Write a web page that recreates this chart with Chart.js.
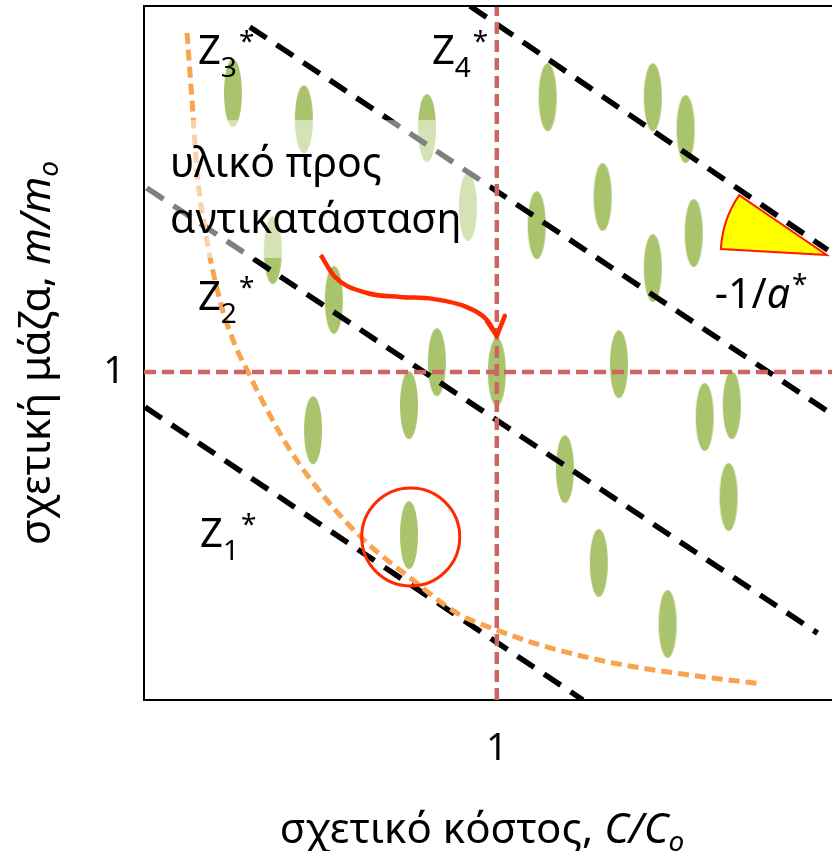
<!DOCTYPE html>
<html><head><meta charset="utf-8">
<script src="https://cdn.jsdelivr.net/npm/chart.js@4/dist/chart.umd.min.js"></script>
<style>html,body{margin:0;padding:0;background:#fff;}#wrap{width:832px;height:851px;}</style>
</head><body><div id="wrap"><canvas id="c" width="832" height="851"></canvas></div>
<script>
// ---------- data (relative cost C/Co on x, relative mass m/mo on y) ----------
const xRange = [0, 1.95];
const yRange = [0, 2.116];
const xTickValues = [1];
const yTickValues = [1];

// candidate materials (green ellipses)
const materialX = [0.252,0.453,0.802,0.918,0.365,0.538,1.144,1.442,1.535,1.113,1.300,1.558,1.442,0.830,0.751,0.479,0.751,1.000,1.346,1.589,1.666,1.193,1.657,1.289,1.484];
const materialY = [1.851,1.771,1.744,1.503,1.372,1.220,1.838,1.838,1.741,1.448,1.534,1.424,1.317,1.030,0.899,0.823,0.503,1.000,1.024,0.863,0.899,0.704,0.619,0.418,0.232];

// reference material lines (C/Co = 1, m/mo = 1)
const refX = 1;
const refY = 1;

// penalty-function contours Z1*..Z4* (end points)
const z1X = [0.003, 1.244], z1Y = [0.893, 0.000];
const z2X = [0.008, 1.909], z2Y = [1.561, 0.204];
const z3X = [0.300, 1.941], z3Y = [2.052, 0.878];
const z4X = [0.924, 1.938], z4Y = [2.116, 1.372];

// trade-off surface (orange dashed curve)
const curveX = [0.122,0.136,0.150,0.173,0.215,0.258,0.295,0.334,0.414,0.518,0.632,0.762,0.887,1.000,1.122,1.329,1.547,1.751];
const curveY = [2.034,1.829,1.616,1.433,1.220,1.082,1.000,0.915,0.762,0.610,0.479,0.366,0.265,0.213,0.168,0.113,0.076,0.049];

// red arrow (material to be replaced -> reference)
const arrowX = [0.501,0.541,0.632,0.725,0.819,0.915,0.972,1.000];
const arrowY = [1.357,1.290,1.241,1.229,1.223,1.198,1.159,1.110];

// chosen material (red circle)
const chosenX = [0.756];
const chosenY = [0.497];

// slope wedge -1/a*  (apex, upper corner, lower corner)
const wedgeX = [1.935, 1.686, 1.635];
const wedgeY = [1.357, 1.540, 1.375];

// translucent label box
const boxX = [0.006, 0.980];
const boxY = [1.348, 1.768];

// text labels
const zNames = ['1','2','3','4'];
const zLabelX = [0.159, 0.153, 0.153, 0.816];
const zLabelY = [0.466, 1.189, 1.939, 1.939];
const boxLines = ['υλικό προς', 'αντικατάσταση'];
const boxLineX = [0.074, 0.074];
const boxLineY = [1.595, 1.424];
const slopeLabelX = 1.618, slopeLabelY = 1.195;

// ---------- helpers ----------
const FONT = '"Noto Sans", "DejaVu Sans", sans-serif';
const pts = (xs, ys) => xs.map((x, i) => ({x, y: ys[i]}));
function fontStr(p){ return (p.italic ? 'italic ' : '') + p.size + 'px ' + FONT; }
function drawRich(ctx, parts, x, y, align){
  let total = 0;
  for (const p of parts){ ctx.font = fontStr(p); p.w = ctx.measureText(p.text).width; total += p.w + (p.gap || 0); }
  let cx = align === 'center' ? x - total / 2 : x;
  ctx.textAlign = 'left'; ctx.textBaseline = 'alphabetic'; ctx.fillStyle = '#000';
  for (const p of parts){ ctx.font = fontStr(p); cx += (p.gap || 0); ctx.fillText(p.text, cx, y + (p.dy || 0)); cx += p.w; }
}
function ellipseImg(w, h, color){
  const c = document.createElement('canvas'); c.width = w + 2; c.height = h + 2;
  const g = c.getContext('2d'); g.fillStyle = color;
  g.beginPath(); g.ellipse((w + 2) / 2, (h + 2) / 2, w / 2, h / 2, 0, 0, Math.PI * 2); g.fill();
  return c;
}
const ellipse = ellipseImg(18, 68, '#A9C46C');

const RED = '#FF2A00', REFRED = '#CD6661', ORANGE = '#F7A350';
const blackLine = (label, xs, ys) => ({label, data: pts(xs, ys), showLine: true, borderColor: '#000', borderWidth: 5.5, borderDash: [20, 12], pointRadius: 0, order: 4});
const noPad = s => { s.paddingTop = 0; s.paddingBottom = 0; s.paddingLeft = 0; s.paddingRight = 0; };

const decor = {
  id: 'decor',
  beforeDatasetsDraw(chart){
    const {ctx, scales: {x, y}} = chart;
    const ax = x.getPixelForValue(wedgeX[0]), ay = y.getPixelForValue(wedgeY[0]);
    const ux = x.getPixelForValue(wedgeX[1]), uy = y.getPixelForValue(wedgeY[1]);
    const lx = x.getPixelForValue(wedgeX[2]), ly = y.getPixelForValue(wedgeY[2]);
    const r = Math.hypot(lx - ax, ly - ay);
    const a1 = Math.atan2(ly - ay, lx - ax), a2 = Math.atan2(uy - ay, ux - ax);
    ctx.save();
    ctx.beginPath(); ctx.moveTo(ax, ay); ctx.lineTo(lx, ly);
    ctx.arc(ax, ay, r, a1 < 0 ? a1 + 2 * Math.PI : a1, a2 < 0 ? a2 + 2 * Math.PI : a2, false);
    ctx.closePath();
    ctx.fillStyle = '#FFFF00'; ctx.fill();
    ctx.strokeStyle = '#FF1A00'; ctx.lineWidth = 2; ctx.stroke();
    ctx.restore();
  },
  beforeDatasetDraw(chart, args){
    if (chart.data.datasets[args.index].label !== 'chosen') return;
    const {ctx, scales: {x, y}} = chart;
    const x0 = x.getPixelForValue(boxX[0]), x1 = x.getPixelForValue(boxX[1]);
    const y0 = y.getPixelForValue(boxY[1]), y1 = y.getPixelForValue(boxY[0]);
    ctx.save(); ctx.fillStyle = 'rgba(255,255,255,0.5)'; ctx.fillRect(x0, y0, x1 - x0, y1 - y0); ctx.restore();
  },
  afterDatasetsDraw(chart){
    const {ctx, chartArea: ca, scales: {x, y}} = chart;
    ctx.save();
    // arrow head
    const n = arrowX.length - 1;
    const tx = x.getPixelForValue(arrowX[n]), ty = y.getPixelForValue(arrowY[n]);
    ctx.strokeStyle = RED; ctx.lineWidth = 4.5; ctx.lineCap = 'round'; ctx.lineJoin = 'round';
    ctx.beginPath(); ctx.moveTo(tx - 10, ty - 15); ctx.lineTo(tx, ty); ctx.lineTo(tx + 8, ty - 20); ctx.stroke();
    // top frame line
    ctx.strokeStyle = '#000'; ctx.lineWidth = 2; ctx.lineCap = 'butt';
    ctx.beginPath(); ctx.moveTo(ca.left - 1, ca.top); ctx.lineTo(ca.right, ca.top); ctx.stroke();
    // Z labels
    zNames.forEach((nm, i) => {
      drawRich(ctx, [{text: 'Z', size: 40}, {text: nm, size: 28, dy: 13}, {text: '*', size: 28, dy: -13, gap: 2}],
        x.getPixelForValue(zLabelX[i]), y.getPixelForValue(zLabelY[i]), 'left');
    });
    boxLines.forEach((t, i) => drawRich(ctx, [{text: t, size: 41}], x.getPixelForValue(boxLineX[i]), y.getPixelForValue(boxLineY[i]), 'left'));
    drawRich(ctx, [{text: '-1/', size: 41}, {text: 'a', size: 41, italic: true}, {text: '*', size: 28, dy: -14, gap: 2}],
      x.getPixelForValue(slopeLabelX), y.getPixelForValue(slopeLabelY), 'left');
    // axis titles
    drawRich(ctx, [{text: 'σχετικό κόστος, ', size: 42}, {text: 'C/C', size: 42, italic: true}, {text: 'o', size: 28, italic: true, dy: 8}],
      (ca.left + ca.right) / 2 - 6, 843, 'center');
    ctx.translate(50, (ca.top + ca.bottom) / 2);
    ctx.rotate(-Math.PI / 2);
    drawRich(ctx, [{text: 'σχετική μάζα, ', size: 42}, {text: 'm/m', size: 42, italic: true}, {text: 'o', size: 28, italic: true, dy: 8}], 0, 0, 'center');
    ctx.restore();
  }
};

new Chart(document.getElementById('c'), {
  type: 'scatter',
  data: {
    datasets: [
      {label: 'arrow', data: pts(arrowX, arrowY), showLine: true, borderColor: RED, borderWidth: 4.5, pointRadius: 0, cubicInterpolationMode: 'monotone', order: 0},
      {label: 'chosen', data: pts(chosenX, chosenY), pointRadius: 49, pointStyle: 'circle', pointBackgroundColor: 'rgba(0,0,0,0)', pointBorderColor: RED, pointBorderWidth: 3, order: 1},
      {label: 'refH', data: [{x: xRange[0], y: refY}, {x: xRange[1], y: refY}], showLine: true, borderColor: REFRED, borderWidth: 4.5, borderDash: [12, 6], pointRadius: 0, order: 2},
      {label: 'refV', data: [{x: refX, y: yRange[0]}, {x: refX, y: yRange[1]}], showLine: true, borderColor: REFRED, borderWidth: 4.5, borderDash: [12, 6], pointRadius: 0, order: 2},
      {label: 'curve', data: pts(curveX, curveY), showLine: true, borderColor: ORANGE, borderWidth: 5, borderDash: [11, 6], pointRadius: 0, cubicInterpolationMode: 'monotone', order: 3},
      blackLine('Z1', z1X, z1Y), blackLine('Z2', z2X, z2Y), blackLine('Z3', z3X, z3Y), blackLine('Z4', z4X, z4Y),
      {label: 'materials', data: pts(materialX, materialY), pointStyle: ellipse, pointRadius: 10, order: 5}
    ]
  },
  options: {
    responsive: false, animation: false, devicePixelRatio: 1,
    layout: {autoPadding: false, padding: {top: 6, right: 0, left: 0, bottom: 0}},
    plugins: {legend: {display: false}, tooltip: {enabled: false}},
    scales: {
      x: {type: 'linear', min: xRange[0], max: xRange[1], position: 'bottom',
        afterFit(s){ s.height = 151; noPad(s); },
        afterBuildTicks(s){ s.ticks = xTickValues.map(v => ({value: v})); },
        ticks: {font: {family: FONT, size: 38}, color: '#000', padding: 26, autoSkip: false, maxRotation: 0},
        grid: {display: false, drawTicks: false},
        border: {display: true, color: '#000', width: 2}},
      y: {type: 'linear', min: yRange[0], max: yRange[1],
        afterFit(s){ s.width = 144; noPad(s); },
        afterBuildTicks(s){ s.ticks = yTickValues.map(v => ({value: v})); },
        ticks: {font: {family: FONT, size: 38}, color: '#000', padding: 19, autoSkip: false},
        grid: {display: false, drawTicks: false},
        border: {display: true, color: '#000', width: 2}}
    }
  },
  plugins: [decor]
});
</script></body></html>
